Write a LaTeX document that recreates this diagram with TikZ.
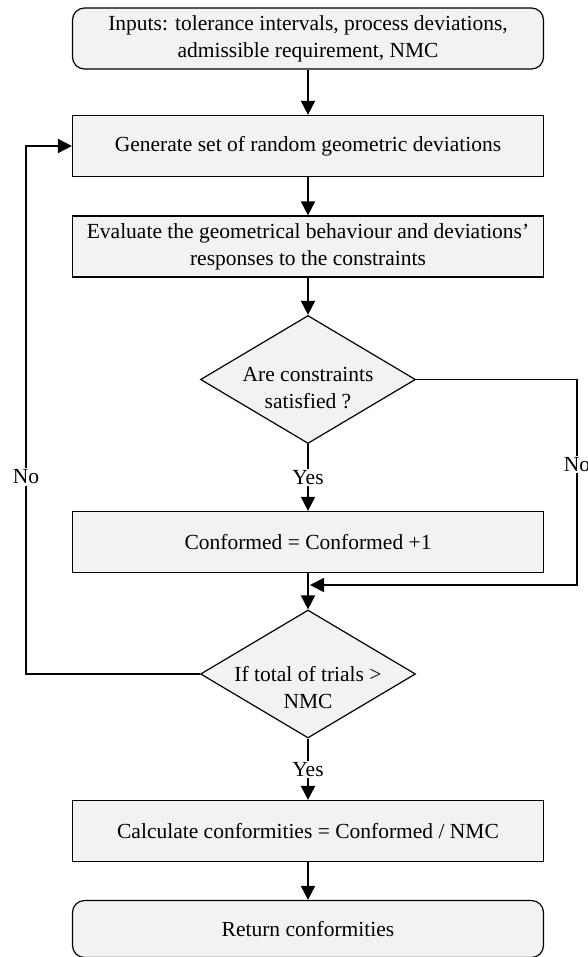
\documentclass[tikz,border=0pt]{standalone}
\usepackage{fontspec}
\setmainfont{Liberation Serif}
\usetikzlibrary{shapes.geometric,arrows.meta}
\definecolor{boxfill}{HTML}{F2F2F2}
\begin{document}
\begin{tikzpicture}[x=1pt,y=-1pt,
  every node/.style={font=\fontsize{21.5}{27}\selectfont, align=center, inner sep=0pt},
  proc/.style={draw, fill=boxfill, line width=1.2pt, minimum width=471pt, minimum height=61pt},
  term/.style={proc, rounded corners=12pt},
  dec/.style={draw, fill=boxfill, diamond, line width=1.2pt, minimum width=215pt, minimum height=128pt},
  conn/.style={line width=1.8pt, -{Triangle[length=14pt,width=14pt]}},
  plain/.style={line width=1.8pt},
  lbl/.style={fill=white, inner sep=1.5pt}]
\useasboundingbox (0,0) rectangle (588,957);

\node[term] (in) at (308,38.5) {Inputs: tolerance intervals, process deviations,\\admissible requirement, NMC};
\node[proc] (gen) at (308,146) {Generate set of random geometric deviations};
\node[proc] (eval) at (308,246.5) {Evaluate the geometrical behaviour and deviations'\\responses to the constraints};
\node[dec] (d1) at (308,379.5) {};
\node (d1t) at (308,388) {Are constraints\\satisfied ?};
\node[proc] (conf) at (308,542) {Conformed = Conformed +1};
\node[dec] (d2) at (308,674) {};
\node (d2t) at (308,688) {If total of trials >\\NMC};
\node[proc] (calc) at (308,831) {Calculate conformities = Conformed / NMC};
\node[term] (ret) at (308,929) [minimum height=57pt] {Return conformities};

\coordinate (rx) at (577,585);
\coordinate (lx) at (26,0);
\coordinate (mg) at (310,585);

\draw[conn] (in) -- (gen);
\draw[conn] (gen) -- (eval);
\draw[conn] (eval) -- (d1);
\draw[conn] (d1.south) -- node[lbl]{Yes} (conf.north);
\draw[plain] (conf.south) -- (d2.north |- rx);
\draw[conn] (d2.north |- rx) -- (d2.north);
\draw[conn] (d1.east) -- (d1.east -| rx) -- node[lbl,pos=0.415]{No} (rx) -- (mg);
\draw[conn] (d2.west) -- (d2.west -| lx) -- node[lbl,pos=0.373]{No} (gen.west -| lx) -- (gen.west);
\draw[conn] (d2.south) -- node[lbl]{Yes} (calc.north);
\draw[conn] (calc) -- (ret);
\end{tikzpicture}
\end{document}
